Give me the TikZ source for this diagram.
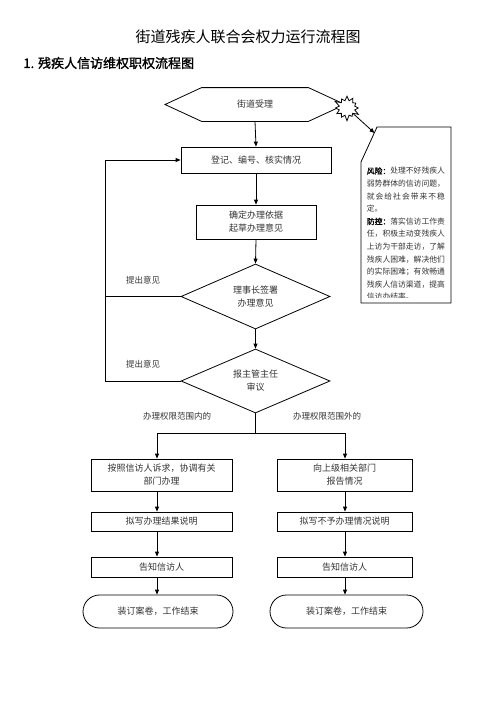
\documentclass[tikz,border=0pt]{standalone}
\usepackage{fontspec}
\setmainfont{Noto Sans CJK SC}
\newfontfamily\cjkb[FakeBold=1.5]{Noto Sans CJK SC}
\usetikzlibrary{arrows.meta,shapes.geometric,shapes.misc,shapes.symbols}
\begin{document}
\begin{tikzpicture}[x=1pt,y=-1pt,
  line width=0.8pt,
  arr/.style={-{Triangle[length=5pt,width=4pt]}},
  txt/.style={font=\fontsize{9}{13}\selectfont, text=black!80, align=center},
  box/.style={draw, rectangle, inner sep=0pt, txt},
  dia/.style={draw, diamond, inner sep=0pt, shape aspect=2.3, txt},
  term/.style={draw, rounded rectangle, inner sep=0pt, txt},
  lbl/.style={inner sep=0pt, font=\fontsize{8.5}{11}\selectfont, text=black!80},
  rl/.style={anchor=west, inner sep=0pt, text=black!80, font=\fontsize{7.8}{9}\selectfont}
]
\useasboundingbox (0,0) rectangle (496,702);

% titles
\node (title) at (248,37) {\fontsize{15}{18}\selectfont 街道残疾人联合会权力运行流程图};
\node[anchor=west, inner sep=0pt] (sub) at (23,63) {\cjkb\fontsize{13}{16}\selectfont 1. 残疾人信访维权职权流程图};

% start hexagon
\node[inner sep=0pt, minimum width=106pt, minimum height=33pt, txt] (hex) at (255,104.5) {街道受理};
\draw (165,104.5) -- (hex.north west) -- (hex.north east) -- (345,104.5) -- (hex.south east) -- (hex.south west) -- cycle;

% starburst
\node[starburst, draw, fill=white, minimum width=28pt, minimum height=27pt,
      starburst points=12, starburst point height=6pt, inner sep=0pt] (burst) at (347,108) {};

% risk box
\draw (377,127) -- (451,127) -- (451,303) -- (361,303) -- (361,162) -- cycle;
\coordinate (rtip) at (374.5,133);
\draw[arr] (burst) -- (rtip);
\begin{scope}
\clip (360,120) rectangle (452,297.5);
\node[rl] (r1)  at (366.5,171.0) {{\cjkb\color{black}风险：}处理不好残疾人};
\node[rl] (r2)  at (366.5,183.6) {弱势群体的信访问题，};
\node[rl] (r3)  at (366.5,196.2) {\hbox to 78pt{就\hfil 会\hfil 给\hfil 社\hfil 会\hfil 带\hfil 来\hfil 不\hfil 稳}};
\node[rl] (r4)  at (366.5,208.8) {定。};
\node[rl] (r5)  at (366.5,221.4) {{\cjkb\color{black}防控：}落实信访工作责};
\node[rl] (r6)  at (366.5,234.0) {任，积极主动变残疾人};
\node[rl] (r7)  at (366.5,246.6) {上访为干部走访，了解};
\node[rl] (r8)  at (366.5,259.2) {残疾人困难，解决他们};
\node[rl] (r9)  at (366.5,271.8) {的实际困难；有效畅通};
\node[rl] (r10) at (366.5,284.4) {残疾人信访渠道，提高};
\node[rl] (r11) at (366.5,297.0) {信访办结率。};
\end{scope}

% main column
\node[box, minimum width=150pt, minimum height=26pt] (reg) at (256,160) {登记、编号、核实情况};
\node[box, minimum width=120pt, minimum height=34pt] (basis) at (256,222) {确定办理依据\\起草办理意见};
\node[dia, minimum width=149pt, minimum height=65pt] (d1) at (255.5,296.5) {理事长签署\\办理意见};
\node[dia, minimum width=149pt, minimum height=64pt] (d2) at (255.5,381) {报主管主任\\审议};

\draw[arr] (hex.south) -- (reg.north);
\draw[arr] (reg.south) -- (basis.north);
\draw[arr] (basis.south) -- (d1.north);
\draw[arr] (d1.south) -- (d2.north);

% feedback
\coordinate (fb) at (105,200);
\draw (d1.west) -- (d1.west -| fb);
\draw[arr] (d2.west) -- (d2.west -| fb) -- (reg.west -| fb) -- (reg.west);
\node[lbl] (fb1) at (143,280) {提出意见};
\node[lbl] (fb2) at (143,364) {提出意见};

% split
\coordinate (split) at (255.5,433);
\coordinate (colL) at (157,433);
\coordinate (colR) at (345,433);
\node[lbl] (inL) at (177,416) {办理权限范围内的};
\node[lbl] (outR) at (327,416) {办理权限范围外的};

% left column
\node[box, minimum width=141pt, minimum height=32pt] (a1) at (161.5,475) {按照信访人诉求，协调有关\\部门办理};
\node[box, minimum width=141pt, minimum height=19pt] (a2) at (161.5,521.5) {拟写办理结果说明};
\node[box, minimum width=141pt, minimum height=20pt] (a3) at (161.5,567) {告知信访人};
\node[term, minimum width=150pt, minimum height=33pt] (a4) at (158,611.5) {装订案卷，工作结束};

% right column
\node[box, minimum width=135pt, minimum height=32pt] (b1) at (344.5,475) {向上级相关部门\\报告情况};
\node[box, minimum width=135pt, minimum height=19pt] (b2) at (344.5,521.5) {拟写不予办理情况说明};
\node[box, minimum width=135pt, minimum height=20pt] (b3) at (344.5,567) {告知信访人};
\node[term, minimum width=153pt, minimum height=33pt] (b4) at (346.5,611.5) {装订案卷，工作结束};

\draw (d2.south) -- (split);
\draw (colL) -- (colR);
\draw[arr] (colL) -- (a1.north -| colL);
\draw[arr] (colR) -- (b1.north -| colR);
\draw[arr] (a1.south -| colL) -- (a2.north -| colL);
\draw[arr] (a2.south -| colL) -- (a3.north -| colL);
\draw[arr] (a3.south -| colL) -- (a4.north -| colL);
\draw[arr] (b1.south -| colR) -- (b2.north -| colR);
\draw[arr] (b2.south -| colR) -- (b3.north -| colR);
\draw[arr] (b3.south -| colR) -- (b4.north -| colR);
\end{tikzpicture}
\end{document}
